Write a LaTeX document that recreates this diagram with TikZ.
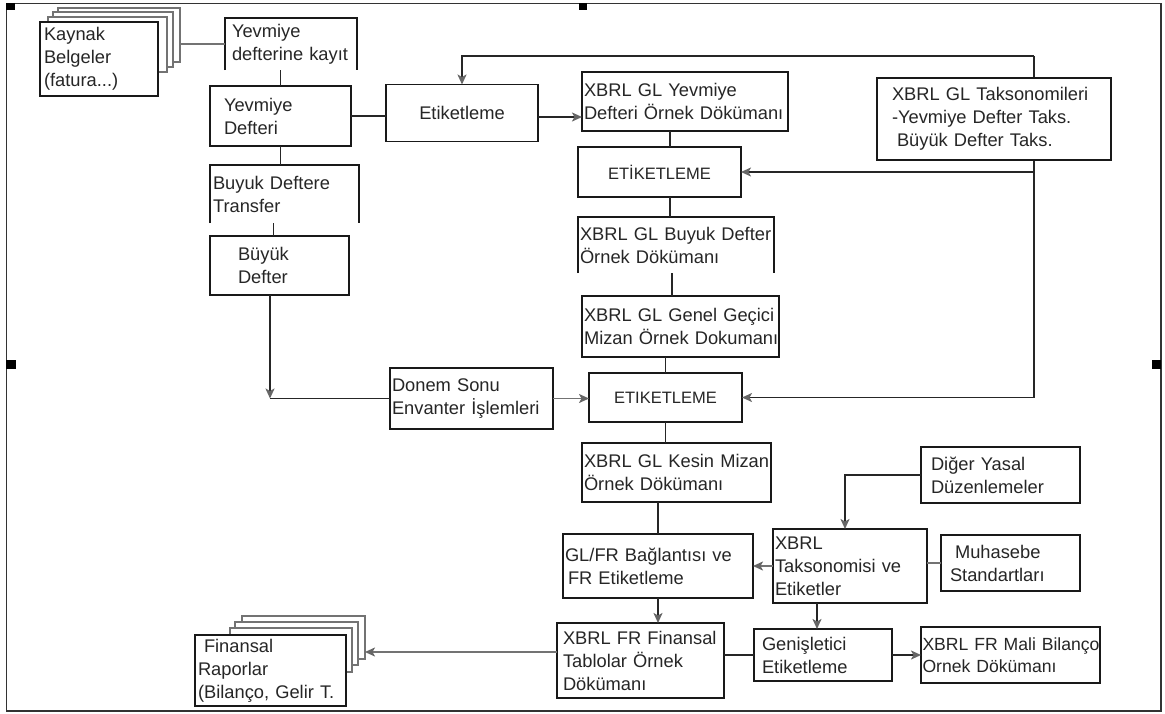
\documentclass[tikz,border=0pt]{standalone}
\usepackage{fontspec}
\setmainfont{Liberation Sans}
\usetikzlibrary{arrows.meta}
\begin{document}
\begin{tikzpicture}[x=1pt,y=-1pt,
  box/.style={draw=black!90, line width=1.6pt, fill=white, inner ysep=0pt, outer sep=0pt,
    font=\fontsize{18.3}{23}\selectfont, align=left, text=black!85},
  thickbox/.style={box, line width=2.4pt},
  openbox/.style={box, draw=none, fill=none},
  bx/.style n args={3}{minimum width=#1pt, minimum height=#2pt, inner xsep=#3pt,
    /utils/exec={\pgfmathsetmacro\twd{#1-2*#3}}, text width=\twd pt},
  tagbox/.style={box, align=center, font=\fontsize{16.5}{20}\selectfont},
  page/.style={draw=black!55, line width=1.3pt, fill=white, outer sep=0pt, inner sep=0pt},
  edge/.style={line width=1.5pt, draw=black!90},
  link/.style={line width=1.8pt, draw=black!85},
  glink/.style={line width=1.8pt, draw=black!55},
  arr/.style={-{Stealth[length=10pt,width=9pt,inset=2.5pt,color=black!60]}}
]
\useasboundingbox (0,0) rectangle (1165,713);

% stacked source documents
\node[page, minimum width=122pt, minimum height=54pt] (k3) at (119,35) {};
\node[page, minimum width=120pt, minimum height=55pt] (k2) at (113,39.5) {};
\node[page, minimum width=119pt, minimum height=55pt] (k1) at (107.5,44.5) {};
\node[box, bx={118}{74}{4}] (kaynak) at (99,59) {Kaynak\\Belgeler\\(fatura...)};

% left column
\node[openbox, bx={132}{52}{7}] (kayit) at (291,44) {Yevmiye\\\mbox{defterine kayıt}};
\draw[edge] (kayit.south west) -- (kayit.north west) -- (kayit.north east) -- (kayit.south east);
\node[thickbox, bx={141}{60}{14}] (ydefter) at (280.5,116) {Yevmiye\\Defteri};
\node[openbox, bx={149}{58}{3}] (transfer) at (284.5,194) {Buyuk Deftere\\Transfer};
\draw[edge] (transfer.south west) -- (transfer.north west) -- (transfer.north east) -- (transfer.south east);
\node[thickbox, bx={139}{59}{28}] (bdefter) at (279.5,265.5) {Büyük\\Defter};

\node[box, align=center, minimum width=152pt, minimum height=57pt] (etiket1) at (462,113) {Etiketleme};
\node[box, bx={163}{61}{2}] (donem) at (471.5,398.5) {Donem Sonu\\\mbox{Envanter İşlemleri}};

% centre column
\node[box, bx={206}{59}{2}] (xyev) at (685,101.5) {XBRL GL Yevmiye\\\mbox{Defteri Örnek Dökümanı}};
\node[tagbox, minimum width=163pt, minimum height=50pt] (etk1) at (659.5,172) {ETİKETLEME};
\node[openbox, bx={196}{56}{2}] (xbuyuk) at (676,245) {\mbox{XBRL GL Buyuk Defter}\\Örnek Dökümanı};
\draw[edge] (xbuyuk.south west) -- (xbuyuk.north west) -- (xbuyuk.north east) -- (xbuyuk.south east);
\node[box, bx={197}{61}{2}] (genel) at (680.5,326.5) {\mbox{XBRL GL Genel Geçici}\\\mbox{Mizan Örnek Dokumanı}};
\node[tagbox, minimum width=153pt, minimum height=49pt] (etk2) at (665.5,397.5) {ETIKETLEME};
\node[box, bx={189}{59}{2}] (kesin) at (676.5,472.5) {\mbox{XBRL GL Kesin Mizan}\\Örnek Dökümanı};
\node[box, bx={190}{64}{2}] (glfr) at (658,566) {\mbox{GL/FR Bağlantısı ve}\\\hspace*{3pt}FR Etiketleme};
\node[box, bx={167}{75}{6}] (xfin) at (640.5,660.5) {\mbox{XBRL FR Finansal}\\Tablolar Örnek\\Dökümanı};

% stacked financial reports
\node[page, minimum width=123pt, minimum height=43pt] (f3) at (303.5,637.5) {};
\node[page, minimum width=123pt, minimum height=43pt] (f2) at (296.5,643.5) {};
\node[page, minimum width=122pt, minimum height=44pt] (f1) at (291,650) {};
\node[box, bx={151}{71}{3}] (finrap) at (270.5,670.5) {\hspace*{6pt}Finansal\\Raporlar\\\mbox{(Bilanço, Gelir T.}};

% right-hand side
\node[box, bx={159}{56}{10}] (diger) at (1000.5,475) {Diğer Yasal\\Düzenlemeler};
\node[box, bx={154}{74}{2}] (xtaks) at (850,566) {XBRL\\Taksonomisi ve\\Etiketler};
\node[box, bx={139}{56}{9}] (muhasebe) at (1010.5,563) {\hspace*{5pt}Muhasebe\\Standartları};
\node[box, bx={138}{52}{8}] (genis) at (823,655) {Genişletici\\Etiketleme};
\node[box, bx={179}{56}{1.5}, font=\fontsize{17.6}{22}\selectfont] (mali) at (1010.5,655) {\mbox{XBRL FR Mali Bilanço}\\\mbox{Ornek Dökümanı}};

% connectors: left column
\draw[glink] (k3.east |- kayit.west) -- (kayit.west);
\draw[link] (ydefter.north |- kayit.south) -- (ydefter.north);
\draw[link] (ydefter.south) -- (ydefter.south |- transfer.north);
\coordinate (bt) at ([xshift=-6pt]bdefter.north);
\draw[link] (bt |- transfer.south) -- (bt);
\coordinate (bdb) at ([xshift=-9.5pt]bdefter.south);
\coordinate (corner) at (bdb |- donem.west);
\draw[link, arr] (bdb) -- (corner);
\draw[link] (corner) -- (donem.west);
\draw[link] (ydefter.east) -- (ydefter.east -| etiket1.west);
\coordinate (e1o) at ([yshift=-4pt]etiket1.east);
\draw[link, arr] (e1o) -- (e1o -| xyev.west);

% taxonomy bus on the right
\coordinate (bustop) at (1034,56);
\coordinate (busbot) at (bustop |- etk2.east);
\draw[link] (busbot) -- (bustop);
\draw[link, arr] (bustop) -| (etiket1.north);
\draw[link, arr] (etk1.east -| bustop) -- (etk1.east);
\draw[link, arr] (busbot) -- (etk2.east);
\node[box, bx={234}{82}{15}] (taks) at (994,119) {\mbox{XBRL GL Taksonomileri}\\\mbox{-Yevmiye Defter Taks.}\\\hspace*{5pt}\mbox{Büyük Defter Taks.}};

% connectors: centre column
\coordinate (c1) at ([xshift=10.5pt]etk1.north);
\draw[link] (c1 |- xyev.south) -- (c1);
\coordinate (c2) at ([xshift=10.5pt]etk1.south);
\draw[link] (c2) -- (c2 |- xbuyuk.north);
\coordinate (c3) at ([xshift=-8.5pt]genel.north);
\draw[link] (c3 |- xbuyuk.south) -- (c3);
\draw[link] (genel.south -| etk2.north) -- (etk2.north);
\draw[link] (etk2.south) -- (etk2.south |- kesin.north);
\draw[link] (glfr.north |- kesin.south) -- (glfr.north);
\draw[link, arr] (glfr.south) -- (glfr.south |- xfin.north);
\draw[glink, arr] (donem.east) -- (donem.east -| etk2.west);
\coordinate (xfo) at ([yshift=8.5pt]xfin.west);
\draw[glink, arr] (xfo) -- (xfo -| f3.east);

% connectors: right-hand side
\draw[link] (genis.west) -- (genis.west -| xfin.east);
\draw[link, arr] (genis.east) -- (genis.east -| mali.west);
\draw[glink, arr] (xtaks.west) -- (xtaks.west -| glfr.east);
\draw[glink] (muhasebe.west) -- (muhasebe.west -| xtaks.east);
\coordinate (xtn) at ([xshift=-5pt]xtaks.north);
\draw[link, arr] (diger.west) -| (xtn);
\coordinate (gn) at ([xshift=-6pt]genis.north);
\draw[link, arr] (gn |- xtaks.south) -- (gn);

% frame and its handles
\draw[line width=1.5pt, black!80] (6.5,3.5) rectangle (1161,711);
\fill[black] (6,3) rectangle (15,10);
\fill[black] (579,3) rectangle (587,10);
\fill[black] (6,360) rectangle (16,369);
\fill[black] (1152,360) rectangle (1161,369);
\end{tikzpicture}
\end{document}
